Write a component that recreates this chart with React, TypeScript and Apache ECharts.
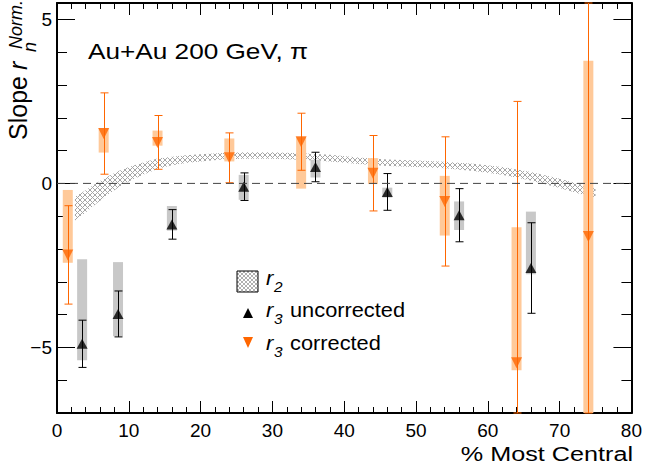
import React, { useEffect, useRef } from 'react';
import * as echarts from 'echarts';

// r3 corrected: centrality position, value, statistical error, systematic box limits
const xCorrected = [1.5, 6.5, 14, 24, 34, 44, 54, 64, 74];
const r3Corrected = [-2.18, 1.52, 1.25, 0.78, 1.27, 0.31, -0.55, -5.47, -1.62];
const r3CorrectedStat = [1.5, 1.24, 0.82, 0.76, 0.87, 1.15, 1.97, 7.97, 8.2];
const r3CorrectedSysLow = [-2.42, 0.94, 1.15, 0.67, -0.16, -0.02, -1.59, -5.7, -7.5];
const r3CorrectedSysHigh = [-0.2, 1.69, 1.61, 1.37, 1.41, 0.77, 0.23, -1.34, 3.74];

// r3 uncorrected
const xUncorrected = [3.5, 8.5, 16, 26, 36, 46, 56, 66];
const r3Uncorrected = [-4.89, -3.98, -1.25, -0.1, 0.5, -0.26, -0.97, -2.58];
const r3UncorrectedStat = [0.72, 0.7, 0.45, 0.42, 0.45, 0.56, 0.81, 1.38];
const r3UncorrectedSysLow = [-5.39, -4.66, -1.44, -0.5, 0.18, -0.43, -1.42, -2.77];
const r3UncorrectedSysHigh = [-2.31, -2.4, -0.69, 0.26, 0.72, -0.13, -0.55, -0.86];

// r2 band (lower / upper edge)
const r2X = [2.5, 4, 5.5, 7, 8.5, 10, 12, 14, 16, 18, 20, 23, 26, 30, 34, 38, 42, 46, 50, 54, 58, 62, 66, 70, 73, 75];
const r2Low = [-1.13, -0.89, -0.61, -0.36, -0.13, 0.06, 0.26, 0.44, 0.55, 0.62, 0.67, 0.73, 0.75, 0.75, 0.72, 0.67, 0.59, 0.53, 0.5, 0.46, 0.38, 0.26, 0.09, -0.14, -0.33, -0.43];
const r2High = [-0.41, -0.21, 0.01, 0.2, 0.37, 0.5, 0.64, 0.76, 0.81, 0.86, 0.89, 0.93, 0.95, 0.95, 0.92, 0.87, 0.79, 0.73, 0.7, 0.66, 0.6, 0.5, 0.35, 0.14, -0.03, -0.13];

// axis ranges and labelled ticks
const xRange = [0, 80];
const yRange = [-7, 5.5];
const yMajorTicks = [-5, 0, 5];
const zeroLine = [0, 80];

const ORANGE = '#ff6600';
const PEACH = '#ffc999';
const GREY_BOX = '#c8c8c8';
const FONT = '"Liberation Sans", Arial, Helvetica, sans-serif';

function hatchPattern(size: number, color: string) {
  const c = document.createElement('canvas');
  c.width = size;
  c.height = size;
  const g = c.getContext('2d')!;
  g.strokeStyle = color;
  g.lineWidth = 1;
  g.beginPath();
  g.moveTo(0, 0);
  g.lineTo(size, size);
  g.moveTo(size, 0);
  g.lineTo(0, size);
  g.stroke();
  return { image: c.toDataURL(), repeat: 'repeat', imageWidth: size, imageHeight: size } as any;
}

function txt(text: string, x: number, baseline: number, size: number, o: any = {}) {
  const align = o.align || 'left';
  return {
    type: 'text',
    x,
    y: baseline - 0.35 * size,
    scaleX: o.sx || 1,
    silent: true,
    style: {
      text,
      font: `${o.italic ? 'italic ' : ''}${size}px ${FONT}`,
      fill: o.color || '#000',
      align,
      verticalAlign: 'middle',
      textAlign: align,
      textVerticalAlign: 'middle',
    },
  };
}

const clampY = (v: number) => Math.max(yRange[0], Math.min(yRange[1], v));

function boxSeries(name: string, xs: number[], lo: number[], hi: number[], color: string) {
  return {
    type: 'custom',
    name,
    data: xs.map((x, i) => [x, lo[i], hi[i]]),
    renderItem: (_p: any, api: any) => {
      const x = api.value(0);
      const top = api.coord([x, clampY(api.value(2))]);
      const bot = api.coord([x, clampY(api.value(1))]);
      return {
        type: 'rect',
        shape: { x: top[0] - 5, y: top[1], width: 10, height: bot[1] - top[1] },
        style: { fill: color },
      };
    },
    silent: true,
  };
}

function errorSeries(name: string, xs: number[], vals: number[], errs: number[], color: string) {
  return {
    type: 'custom',
    name,
    data: xs.map((x, i) => [x, vals[i], errs[i]]),
    renderItem: (_p: any, api: any) => {
      const x = api.value(0);
      const y = api.value(1);
      const e = api.value(2);
      const top = api.coord([x, clampY(y + e)]);
      const bot = api.coord([x, clampY(y - e)]);
      const cx = Math.round(top[0]) + 0.5;
      const style = { stroke: color, lineWidth: 1 };
      return {
        type: 'group',
        children: [
          { type: 'line', shape: { x1: cx, y1: top[1], x2: cx, y2: bot[1] }, style },
          { type: 'line', shape: { x1: cx - 4, y1: top[1], x2: cx + 4, y2: top[1] }, style },
          { type: 'line', shape: { x1: cx - 4, y1: bot[1], x2: cx + 4, y2: bot[1] }, style },
        ],
      };
    },
    silent: true,
  };
}

function axisCommon() {
  return {
    type: 'value',
    axisLine: { show: true, onZero: false, lineStyle: { color: '#000', width: 2 } },
    splitLine: { show: false },
  };
}

export default function App() {
  const ref = useRef<HTMLDivElement>(null);

  useEffect(() => {
    if (!ref.current) return;
    const chart = echarts.init(ref.current, null, { renderer: 'svg' });
    const bandFill = hatchPattern(5, '#a6a6a6');
    const legendFill = hatchPattern(4, '#b0b0b0');

    const xAxisBase = {
      ...axisCommon(),
      min: xRange[0],
      max: xRange[1],
      interval: 10,
      axisTick: { show: true, inside: true, length: 12, lineStyle: { color: '#000', width: 1 } },
      minorTick: { show: true, splitNumber: 5, length: 6, lineStyle: { color: '#000', width: 1 } },
    };
    const yMinorBase = {
      ...axisCommon(),
      min: yRange[0],
      max: yRange[1],
      interval: 1,
      axisTick: { show: true, inside: true, length: 10, lineStyle: { color: '#000', width: 1 } },
      axisLabel: { show: false },
    };
    const yMajorBase = {
      ...axisCommon(),
      min: yRange[0],
      max: yRange[1],
      axisLine: { show: false, onZero: false },
      axisTick: { show: true, inside: true, length: 18, customValues: yMajorTicks, lineStyle: { color: '#000', width: 1 } },
    };

    const option: any = {
      animation: false,
      grid: { left: 57, right: 12, top: 3, bottom: 58 },
      xAxis: [
        {
          ...xAxisBase,
          position: 'bottom',
          axisLabel: { color: '#000', fontSize: 19, fontFamily: FONT, margin: 8 },
        },
        { ...xAxisBase, position: 'top', axisLabel: { show: false } },
      ],
      yAxis: [
        { ...yMinorBase, position: 'left' },
        {
          ...yMajorBase,
          position: 'left',
          axisLabel: {
            show: true,
            customValues: yMajorTicks,
            color: '#000',
            fontSize: 19,
            fontFamily: FONT,
            margin: 5,
            formatter: (v: number) => (v < 0 ? '\u2212' + Math.abs(v) : String(v)),
          },
        },
        { ...yMinorBase, position: 'right' },
        { ...yMajorBase, position: 'right', axisLabel: { show: false } },
      ],
      series: [
        {
          type: 'line',
          name: 'zero',
          data: zeroLine.map((x) => [x, 0]),
          symbol: 'none',
          silent: true,
          lineStyle: { color: '#444', width: 1, type: [8, 5] },
        },
        {
          type: 'custom',
          name: 'r2',
          data: r2X.map((x, i) => [x, r2Low[i], r2High[i]]),
          renderItem: (p: any, api: any) => {
            if (p.dataIndex !== 0) return null;
            const upper = r2X.map((x, i) => api.coord([x, r2High[i]]));
            const lower = r2X.map((x, i) => api.coord([x, r2Low[i]])).reverse();
            return {
              type: 'polygon',
              shape: { points: upper.concat(lower) },
              style: { fill: bandFill },
            };
          },
          silent: true,
        },
        boxSeries('r3 corrected sys', xCorrected, r3CorrectedSysLow, r3CorrectedSysHigh, PEACH),
        boxSeries('r3 uncorrected sys', xUncorrected, r3UncorrectedSysLow, r3UncorrectedSysHigh, GREY_BOX),
        errorSeries('r3 corrected stat', xCorrected, r3Corrected, r3CorrectedStat, ORANGE),
        errorSeries('r3 uncorrected stat', xUncorrected, r3Uncorrected, r3UncorrectedStat, '#000'),
        {
          type: 'scatter',
          name: 'r3 uncorrected',
          data: xUncorrected.map((x, i) => [x, r3Uncorrected[i]]),
          symbol: 'triangle',
          symbolSize: [11, 10],
          itemStyle: { color: '#000' },
          silent: true,
        },
        {
          type: 'scatter',
          name: 'r3 corrected',
          data: xCorrected.map((x, i) => [x, r3Corrected[i]]),
          symbol: 'triangle',
          symbolSize: [11, 11],
          symbolRotate: 180,
          itemStyle: { color: ORANGE },
          silent: true,
        },
      ],
      graphic: [
        txt('Au+Au 200 GeV, \u03c0', 88, 59, 22, { sx: 1.19 }),
        txt('% Most Central', 633, 461, 21, { sx: 1.2, align: 'right' }),
        {
          type: 'group',
          x: 27,
          y: 140,
          rotation: Math.PI / 2,
          children: [
            txt('Slope', 0, 0, 25),
            txt('r', 70, 0, 25, { italic: true }),
            txt('Norm.', 91, -5, 18, { italic: true }),
            txt('n', 88, 9, 18, { italic: true }),
          ],
        },
        // legend
        {
          type: 'rect',
          shape: { x: 237, y: 271, width: 21, height: 21 },
          style: { fill: legendFill, stroke: '#000', lineWidth: 1 },
          silent: true,
        },
        txt('r', 266, 285, 20, { italic: true, sx: 1.1 }),
        txt('2', 274, 292, 14, { italic: true, sx: 1.1 }),
        {
          type: 'polygon',
          shape: { points: [[243, 318], [253, 318], [248, 308]] },
          style: { fill: '#000' },
          silent: true,
        },
        txt('r', 266, 317, 20, { italic: true, sx: 1.1 }),
        txt('3', 274, 324, 14, { italic: true, sx: 1.1 }),
        txt('uncorrected', 290, 317, 20, { sx: 1.09 }),
        {
          type: 'polygon',
          shape: { points: [[243, 337], [253, 337], [248, 348]] },
          style: { fill: ORANGE },
          silent: true,
        },
        txt('r', 266, 350, 20, { italic: true, sx: 1.1 }),
        txt('3', 274, 357, 14, { italic: true, sx: 1.1 }),
        txt('corrected', 290, 350, 20, { sx: 1.09 }),
      ],
    };

    chart.setOption(option);
    return () => chart.dispose();
  }, []);

  return (
    <div
      ref={ref}
      style={{ position: 'fixed', left: 0, top: 0, width: 645, height: 471, background: '#fff' }}
    />
  );
}
